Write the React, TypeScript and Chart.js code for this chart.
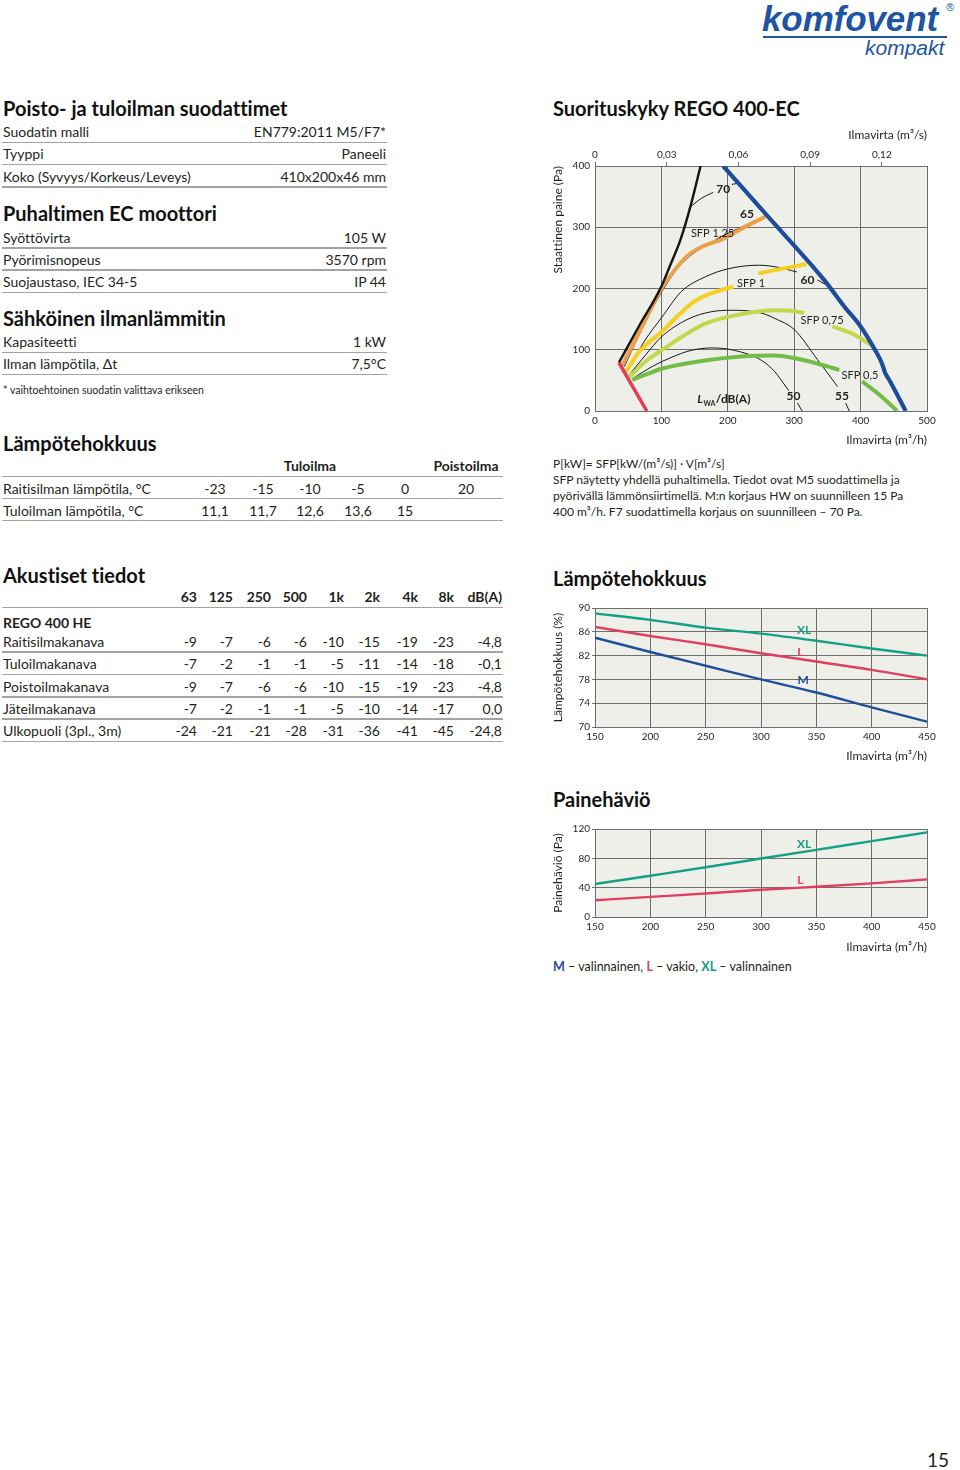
import React, { useEffect, useRef } from "react";
import { Chart, registerables } from "chart.js";
Chart.register(...registerables);

const FONT = "Lato, 'Open Sans', sans-serif";
const TXT = "#231f20";
Chart.defaults.font.family = FONT;
Chart.defaults.color = TXT;

// ---------------- table data ----------------
const filterRows = [
  ["Suodatin malli", "EN779:2011 M5/F7*"],
  ["Tyyppi", "Paneeli"],
  ["Koko (Syvyys/Korkeus/Leveys)", "410x200x46 mm"],
];
const motorRows = [
  ["Syöttövirta", "105 W"],
  ["Pyörimisnopeus", "3570 rpm"],
  ["Suojaustaso, IEC 34-5", "IP 44"],
];
const heaterRows = [
  ["Kapasiteetti", "1 kW"],
  ["Ilman lämpötila, Δt", "7,5°C"],
];
const outdoorTemps = ["-23", "-15", "-10", "-5", "0", "20"];
const supplyTemps = ["11,1", "11,7", "12,6", "13,6", "15"];
const octaveBands = ["63", "125", "250", "500", "1k", "2k", "4k", "8k", "dB(A)"];
const acousticNames = ["Raitisilmakanava", "Tuloilmakanava", "Poistoilmakanava", "Jäteilmakanava", "Ulkopuoli (3pl., 3m)"];
const acousticValues = [
  ["-9", "-7", "-6", "-6", "-10", "-15", "-19", "-23", "-4,8"],
  ["-7", "-2", "-1", "-1", "-5", "-11", "-14", "-18", "-0,1"],
  ["-9", "-7", "-6", "-6", "-10", "-15", "-19", "-23", "-4,8"],
  ["-7", "-2", "-1", "-1", "-5", "-10", "-14", "-17", "0,0"],
  ["-24", "-21", "-21", "-28", "-31", "-36", "-41", "-45", "-24,8"],
];

// ---------------- performance chart data (x: m3/h, y: Pa) ----------------
type P = [number, number];
const systemLimit: P[] = [[36, 79], [67, 140], [98.5, 200], [114, 240], [128.5, 279], [144, 335], [159, 400]];
const minLimit: P[] = [[36, 79], [78, 0]];
const maxLimit: P[] = [[193, 400], [260, 318], [345, 214], [375, 171], [400, 138], [420, 103], [432, 78], [437, 62], [443, 51], [468, 0]];
const sfp125: P[] = [[41, 74], [70, 136], [98.5, 197], [120, 230], [141, 255], [165, 270], [191, 280], [225, 300], [256, 317]];
const sfp1a: P[] = [[46, 63], [66, 96], [100, 129], [148.5, 178], [180, 194], [208.5, 203]];
const sfp1b: P[] = [[246, 224.6], [280, 232], [319, 240]];
const sfp075a: P[] = [[51, 55], [75, 80], [100, 99], [166, 142.6], [220, 158], [271, 164.5], [300, 163], [315, 160]];
const sfp075b: P[] = [[357.5, 138], [390, 125], [417.5, 106.5]];
const sfp05a: P[] = [[56, 51], [80, 61], [100, 69], [166, 82.5], [220, 89], [271, 90.7], [300, 86.4], [350, 72.8], [368, 67]];
const sfp05b: P[] = [[402.5, 48.3], [430, 25], [455, 0]];
const noise70a: P[] = [[141, 331], [160, 347], [178, 357]];
const noise70b: P[] = [[206, 370], [217, 372]];
const noise65: P[] = [[44, 72], [70, 132], [98, 190], [130, 240], [181, 279], [220, 300], [256, 318]];
const noise60a: P[] = [[48.5, 66], [75, 115], [101, 153.5], [130, 195], [166, 219], [200, 232], [246, 238], [271, 235.5], [304, 227]];
const noise60b: P[] = [[335, 214], [348, 206]];
const noise55a: P[] = [[51, 58], [75, 90], [100, 121], [140, 150], [175, 162], [206, 164.5], [250, 160], [271, 151], [300, 133], [335, 84], [355, 55], [365, 40]];
const noise55b: P[] = [[377.5, 13], [383, 0]];
const noise50a: P[] = [[56, 52.5], [85, 72], [116, 88], [145, 99], [176, 103], [210, 99], [251, 82.5], [271, 64], [280, 51], [292, 33]];
const noise50b: P[] = [[305, 13], [312, 0]];

// ---------------- heat efficiency / pressure drop data ----------------
const airflow = [150, 200, 250, 300, 350, 400, 450];
const effXL = [89.1, 88.0, 86.7, 85.7, 84.5, 83.2, 82.0];
const effL = [86.8, 85.3, 83.9, 82.4, 81.0, 79.6, 78.0];
const effM = [85.0, 82.6, 80.3, 78.0, 75.8, 73.3, 70.9];
const dpXL = [44.9, 56.3, 67.8, 79.7, 91.6, 103.5, 115.4];
const dpL = [22.9, 27.5, 32.0, 37.1, 41.2, 45.8, 51.3];

const C_XL = "#14a085";
const C_L = "#e0405f";
const C_M = "#1f4f99";
const GRID = "#6e6e6e";
const PLOT_BG = "#efefea";
const LOGO = "#1d55a2";

const toXY = (d: P[]) => d.map(([x, y]) => ({ x, y }));
const zip = (xs: number[], ys: number[]) => xs.map((x, i) => ({ x, y: ys[i] }));

const bgPlugin = {
  id: "plotBg",
  beforeDraw(chart: any) {
    const { ctx, chartArea: a } = chart;
    ctx.save();
    ctx.fillStyle = PLOT_BG;
    ctx.fillRect(a.left, a.top, a.right - a.left, a.bottom - a.top);
    ctx.restore();
  },
};

const labelPlugin = {
  id: "curveLabels",
  afterDatasetsDraw(chart: any, _args: any, opts: any) {
    const { ctx } = chart;
    const xs = chart.scales.x;
    const ys = chart.scales.y;
    (opts.items || []).forEach((it: any) => {
      const cx = xs.getPixelForValue(it.x);
      const cy = ys.getPixelForValue(it.y);
      ctx.save();
      ctx.fillStyle = it.color || TXT;
      if (it.kind === "lwa") {
        ctx.textBaseline = "alphabetic";
        ctx.textAlign = "left";
        const fL = `italic 700 12px ${FONT}`;
        const fS = `700 7px ${FONT}`;
        const fR = `700 12px ${FONT}`;
        ctx.font = fL; const wL = ctx.measureText("L").width;
        ctx.font = fS; const wS = ctx.measureText("WA").width;
        ctx.font = fR; const wR = ctx.measureText("/dB(A)").width;
        let sx = cx - (wL + wS + wR + 1) / 2;
        const by = cy + 4;
        ctx.font = fL; ctx.fillText("L", sx, by); sx += wL + 0.5;
        ctx.font = fS; ctx.fillText("WA", sx, by + 3); sx += wS + 0.5;
        ctx.font = fR; ctx.fillText("/dB(A)", sx, by);
      } else {
        ctx.font = `${it.bold ? "700 " : ""}${it.size || 11}px ${FONT}`;
        ctx.textAlign = "center";
        ctx.textBaseline = "middle";
        ctx.fillText(it.text, cx, cy);
      }
      ctx.restore();
    });
  },
};

const tickFont = { family: FONT, size: 10 };
const titleFont = { family: FONT, size: 12 };
const setTicks = (vals: number[]) => (s: any) => { s.ticks = vals.map((v) => ({ value: v })); };

function perfConfig(): any {
  const line = (d: P[], color: string, w: number) => ({
    data: toXY(d), borderColor: color, borderWidth: w, pointRadius: 0,
    cubicInterpolationMode: "monotone", borderCapStyle: "butt", fill: false,
  });
  const black = "#151515";
  return {
    type: "line",
    data: {
      datasets: [
        line(maxLimit, "#1d4c9b", 4.2),
        line(minLimit, "#e23c57", 3.5),
        line(systemLimit, black, 2.4),
        line(sfp125, "#eda04a", 4),
        line(sfp1a, "#f4d021", 4),
        line(sfp1b, "#f4d021", 4),
        line(sfp075a, "#bfd94a", 4),
        line(sfp075b, "#bfd94a", 4),
        line(sfp05a, "#72bd48", 4),
        line(sfp05b, "#72bd48", 4),
        line(noise70a, black, 1),
        line(noise70b, black, 1),
        line(noise65, black, 1),
        line(noise60a, black, 1),
        line(noise60b, black, 1),
        line(noise55a, black, 1),
        line(noise55b, black, 1),
        line(noise50a, black, 1),
        line(noise50b, black, 1),
      ],
    },
    options: {
      responsive: false, animation: false, events: [],
      layout: { padding: { left: 0, right: 13, top: 0, bottom: 0 } },
      plugins: {
        legend: { display: false }, tooltip: { enabled: false },
        curveLabels: {
          items: [
            { x: 193, y: 363, text: "70", bold: true, size: 12 },
            { x: 229, y: 321, text: "65", bold: true, size: 12 },
            { x: 177, y: 290, text: "SFP 1,25", size: 11 },
            { x: 235, y: 209, text: "SFP 1", size: 11 },
            { x: 320, y: 214, text: "60", bold: true, size: 12 },
            { x: 342, y: 148, text: "SFP 0,75", size: 11 },
            { x: 399, y: 58, text: "SFP 0,5", size: 11 },
            { x: 372, y: 24, text: "55", bold: true, size: 12 },
            { x: 299, y: 24, text: "50", bold: true, size: 12 },
            { x: 194, y: 20, kind: "lwa" },
          ],
        },
      },
      scales: {
        x: {
          type: "linear", position: "bottom", min: 0, max: 500,
          afterBuildTicks: setTicks([0, 100, 200, 300, 400, 500]),
          ticks: { font: tickFont, color: TXT, padding: 4, maxRotation: 0 },
          grid: { color: GRID, lineWidth: 1, drawTicks: false },
          border: { color: GRID },
          title: { display: true, text: "Ilmavirta (m³/h)", align: "end", font: titleFont, color: TXT, padding: { top: 0, bottom: 3 } },
          afterFit: (s: any) => { s.height = 39; },
        },
        x2: {
          type: "linear", position: "top", min: 0, max: 500 / 3600,
          afterBuildTicks: setTicks([0, 0.03, 0.06, 0.09, 0.12]),
          ticks: {
            font: tickFont, color: TXT, padding: 1, maxRotation: 0,
            callback: (v: number) => (v === 0 ? "0" : v.toFixed(2).replace(".", ",")),
          },
          grid: { drawOnChartArea: false, color: GRID, tickLength: 4 },
          border: { color: GRID },
          title: { display: true, text: "Ilmavirta (m³/s)", align: "end", font: titleFont, color: TXT, padding: { top: 3, bottom: 0 } },
          afterFit: (s: any) => { s.height = 41; },
        },
        y: {
          type: "linear", min: 0, max: 400,
          afterBuildTicks: setTicks([0, 100, 200, 300, 400]),
          ticks: { font: tickFont, color: TXT, padding: 5 },
          grid: { color: GRID, lineWidth: 1, drawTicks: false },
          border: { color: GRID },
          title: { display: true, text: "Staattinen paine (Pa)", align: "end", font: titleFont, color: TXT, padding: { top: 3, bottom: 0 } },
          afterFit: (s: any) => { s.width = 47; },
        },
      },
    },
    plugins: [bgPlugin, labelPlugin],
  };
}

function smallConfig(kind: "eff" | "dp"): any {
  const ds = (ys: number[], color: string) => ({
    data: zip(airflow, ys), borderColor: color, borderWidth: 2.4, pointRadius: 0,
    cubicInterpolationMode: "monotone", fill: false,
  });
  const isEff = kind === "eff";
  const yTicks = isEff ? [70, 72, 74, 76, 78, 80, 82, 84, 86, 88, 90] : [0, 20, 40, 60, 80, 100, 120];
  const datasets = isEff
    ? [ds(effXL, C_XL), ds(effL, C_L), ds(effM, C_M)]
    : [ds(dpXL, C_XL), ds(dpL, C_L)];
  const items = isEff
    ? [
        { x: 339, y: 86.2, text: "XL", bold: true, size: 12, color: C_XL },
        { x: 335.5, y: 82.6, text: "L", bold: true, size: 12, color: C_L },
        { x: 338, y: 77.9, text: "M", bold: true, size: 12, color: C_M },
      ]
    : [
        { x: 339, y: 99.9, text: "XL", bold: true, size: 12, color: C_XL },
        { x: 335.5, y: 50.4, text: "L", bold: true, size: 12, color: C_L },
      ];
  return {
    type: "line",
    data: { datasets },
    options: {
      responsive: false, animation: false, events: [],
      layout: { padding: { left: 0, right: 13, top: 10, bottom: 0 } },
      plugins: { legend: { display: false }, tooltip: { enabled: false }, curveLabels: { items } },
      scales: {
        x: {
          type: "linear", min: 150, max: 450,
          afterBuildTicks: setTicks([150, 200, 250, 300, 350, 400, 450]),
          ticks: { font: tickFont, color: TXT, padding: 4, maxRotation: 0 },
          grid: { color: GRID, lineWidth: 1, drawTicks: false },
          border: { color: GRID },
          title: { display: true, text: "Ilmavirta (m³/h)", align: "end", font: titleFont, color: TXT, padding: { top: 0, bottom: 5 } },
          afterFit: (s: any) => { s.height = isEff ? 41 : 42; },
        },
        y: {
          type: "linear", min: yTicks[0], max: yTicks[yTicks.length - 1],
          afterBuildTicks: setTicks(yTicks),
          ticks: {
            font: tickFont, color: TXT, padding: 2,
            callback: (v: number) => (isEff ? ((v - 70) % 4 === 0 ? String(v) : "") : (v % 40 === 0 ? String(v) : "")),
          },
          grid: { color: GRID, lineWidth: 1, tickLength: 3 },
          border: { color: GRID },
          title: {
            display: true, text: isEff ? "Lämpötehokkuus (%)" : "Painehäviö (Pa)", align: "center",
            font: titleFont, color: TXT, padding: { top: 3, bottom: 0 },
          },
          afterFit: (s: any) => { s.width = 47; },
        },
      },
    },
    plugins: [bgPlugin, labelPlugin],
  };
}

function ChartBox({ left, top, width, height, make }: any) {
  const ref = useRef<HTMLCanvasElement>(null);
  useEffect(() => {
    const c = new Chart(ref.current as HTMLCanvasElement, make());
    return () => c.destroy();
  }, []);
  return <canvas ref={ref} width={width} height={height} style={{ position: "absolute", left, top, width, height }} />;
}

function Tx({ x, y, t, size = 14, bold = false, anchor = "l", color = TXT, lh = 20, italic = false, children }: any) {
  const style: any = {
    position: "absolute", top: y - lh / 2, lineHeight: lh + "px", height: lh, fontSize: size,
    fontWeight: bold ? 700 : 400, color, whiteSpace: "nowrap", fontStyle: italic ? "italic" : "normal",
  };
  if (anchor === "l") style.left = x;
  else if (anchor === "r") style.right = 960 - x;
  else { style.left = x; style.transform = "translateX(-50%)"; }
  return <div style={style}>{children ?? t}</div>;
}

function HLine({ x1, x2, y }: any) {
  return <div style={{ position: "absolute", left: x1, top: y - 0.75, width: x2 - x1, height: 1.5, background: "#a3a3a3" }} />;
}

function KVSection({ title, titleY, rows, rowY }: any) {
  return (
    <>
      <Tx x={3} y={titleY} t={title} size={20} bold lh={26} color="#111" />
      {rows.map((r: string[], i: number) => (
        <React.Fragment key={i}>
          <Tx x={3} y={rowY[i]} t={r[0]} />
          <Tx x={386} y={rowY[i]} t={r[1]} anchor="r" />
          <HLine x1={2} x2={387} y={rowY[i] + 10.5} />
        </React.Fragment>
      ))}
    </>
  );
}

const tempCols = [215, 263, 310, 358, 405, 466];
const bandRight = [197, 233, 271, 307, 344, 380, 418, 454, 502];
const acousticY = [641.5, 664, 686.5, 708.5, 731];
const LOGO_FONT = "'Liberation Sans', Arial, sans-serif";

export default function App() {
  return (
    <div style={{ position: "absolute", left: 0, top: 0, width: 960, height: 1470, background: "#fff", fontFamily: FONT, color: TXT, overflow: "hidden", fontVariantLigatures: "none" }}>
      {/* logo */}
      <div style={{ position: "absolute", left: 762, top: 2, fontFamily: LOGO_FONT, fontStyle: "italic", fontWeight: 700, fontSize: 35, lineHeight: "34px", height: 34, color: LOGO, letterSpacing: -0.1 }}>komfovent</div>
      <div style={{ position: "absolute", left: 946, top: 2, fontFamily: LOGO_FONT, fontSize: 11, lineHeight: "11px", color: LOGO }}>®</div>
      <div style={{ position: "absolute", left: 763, top: 36, width: 184, height: 2, background: LOGO }} />
      <div style={{ position: "absolute", left: 865, top: 39, fontFamily: LOGO_FONT, fontStyle: "italic", fontSize: 21, lineHeight: "18px", height: 18, color: LOGO }}>kompakt</div>

      {/* left column */}
      <KVSection title="Poisto- ja tuloilman suodattimet" titleY={108} rows={filterRows} rowY={[132, 154, 176.5]} />
      <KVSection title="Puhaltimen EC moottori" titleY={213} rows={motorRows} rowY={[237.5, 259.5, 282]} />
      <KVSection title="Sähköinen ilmanlämmitin" titleY={318} rows={heaterRows} rowY={[342, 364]} />
      <Tx x={3} y={389.5} t="* vaihtoehtoinen suodatin valittava erikseen" size={10.5} lh={14} />

      <Tx x={3} y={442.5} t="Lämpötehokkuus" size={20} bold lh={26} color="#111" />
      <Tx x={310} y={466} t="Tuloilma" bold anchor="c" />
      <Tx x={466} y={466} t="Poistoilma" bold anchor="c" />
      <HLine x1={2} x2={503} y={476.5} />
      <Tx x={3} y={488.5} t="Raitisilman lämpötila, °C" />
      {outdoorTemps.map((v, i) => <Tx key={"o" + i} x={tempCols[i]} y={488.5} t={v} anchor="c" />)}
      <HLine x1={2} x2={503} y={498.5} />
      <Tx x={3} y={510.5} t="Tuloilman lämpötila, °C" />
      {supplyTemps.map((v, i) => <Tx key={"s" + i} x={tempCols[i]} y={510.5} t={v} anchor="c" />)}
      <HLine x1={2} x2={503} y={520.5} />

      <Tx x={3} y={575} t="Akustiset tiedot" size={20} bold lh={26} color="#111" />
      {octaveBands.map((b, i) => <Tx key={"b" + i} x={bandRight[i]} y={597} t={b} bold anchor="r" />)}
      <HLine x1={2} x2={503} y={607.5} />
      <Tx x={3} y={623} t="REGO 400 HE" bold />
      {acousticNames.map((n, r) => (
        <React.Fragment key={"a" + r}>
          <Tx x={3} y={acousticY[r]} t={n} />
          {acousticValues[r].map((v, i) => <Tx key={i} x={bandRight[i]} y={acousticY[r]} t={v} anchor="r" />)}
          <HLine x1={2} x2={503} y={acousticY[r] + 10.5} />
        </React.Fragment>
      ))}

      {/* right column */}
      <Tx x={553} y={108} t="Suorituskyky REGO 400-EC" size={20} bold lh={26} color="#111" />
      <ChartBox left={548} top={125} width={392} height={325} make={perfConfig} />
      <Tx x={553} y={464} t="P[kW]= SFP[kW/(m³/s)] · V[m³/s]" size={12} lh={16} />
      <Tx x={553} y={480} t="SFP näytetty yhdellä puhaltimella. Tiedot ovat M5 suodattimella ja" size={12} lh={16} />
      <Tx x={553} y={495.5} t="pyörivällä lämmönsiirtimellä. M:n korjaus HW on suunnilleen 15 Pa" size={12} lh={16} />
      <Tx x={553} y={511.5} t="400 m³/h. F7 suodattimella korjaus on suunnilleen – 70 Pa." size={12} lh={16} />

      <Tx x={553} y={578} t="Lämpötehokkuus" size={20} bold lh={26} color="#111" />
      <ChartBox left={548} top={598} width={392} height={170} make={() => smallConfig("eff")} />

      <Tx x={553} y={799} t="Painehäviö" size={20} bold lh={26} color="#111" />
      <ChartBox left={548} top={819} width={392} height={140} make={() => smallConfig("dp")} />
      <Tx x={553} y={967} size={12.5} lh={16}>
        <b style={{ color: C_M }}>M</b> – valinnainen, <b style={{ color: C_L }}>L</b> – vakio, <b style={{ color: C_XL }}>XL</b> – valinnainen
      </Tx>

      <Tx x={949} y={1460} t="15" size={19} anchor="r" lh={18} />
    </div>
  );
}
